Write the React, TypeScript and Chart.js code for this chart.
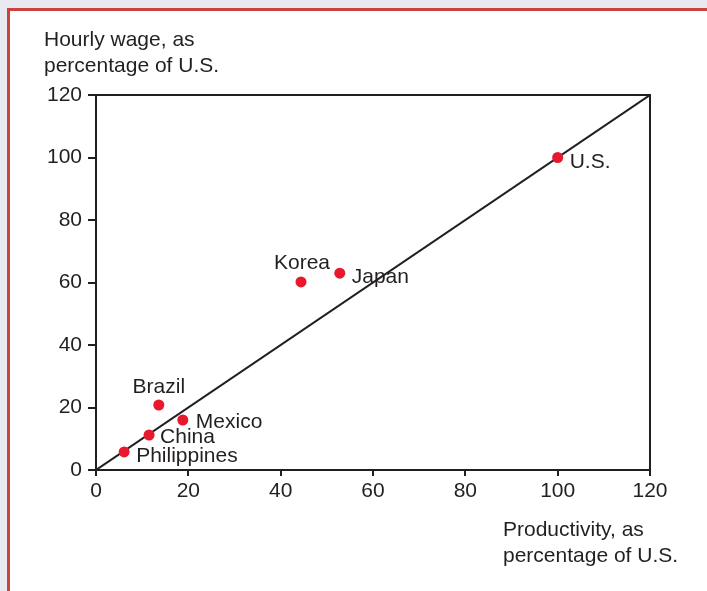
import React, { useEffect, useRef } from "react";
import { Chart, registerables } from "chart.js";

Chart.register(...registerables);

const countries = ["U.S.", "Japan", "Korea", "Brazil", "Mexico", "China", "Philippines"];
const productivity = [100, 52.8, 44.4, 13.6, 18.8, 11.5, 6.1];
const wages = [100, 63, 60.2, 20.8, 16, 11.2, 5.8];
const tickValues = [0, 20, 40, 60, 80, 100, 120];
const yTitle = ["Hourly wage, as", "percentage of U.S."];
const xTitle = ["Productivity, as", "percentage of U.S."];

const INK = "#231f20";
const DOT = "#e8192c";
const FONT = "Liberation Sans, Arial, sans-serif";
const FS = 21;

const labelPlacement: Record<string, { dx: number; dy: number; align: CanvasTextAlign }> = {
  "U.S.": { dx: 12, dy: 10.5, align: "left" },
  Japan: { dx: 12, dy: 9.5, align: "left" },
  Korea: { dx: 1, dy: -13, align: "center" },
  Brazil: { dx: 0, dy: -12, align: "center" },
  Mexico: { dx: 13, dy: 7.7, align: "left" },
  China: { dx: 11, dy: 7.6, align: "left" },
  Philippines: { dx: 12, dy: 10, align: "left" },
};

export default function App() {
  const ref = useRef<HTMLCanvasElement>(null);

  useEffect(() => {
    if (!ref.current) return;
    const annotate = {
      id: "annotate",
      afterDatasetsDraw(chart: any) {
        const { ctx, chartArea, scales } = chart;
        ctx.save();
        ctx.strokeStyle = INK;
        ctx.lineWidth = 2;
        ctx.beginPath();
        ctx.moveTo(chartArea.left, chartArea.top);
        ctx.lineTo(chartArea.right, chartArea.top);
        ctx.lineTo(chartArea.right, chartArea.bottom);
        ctx.stroke();
        ctx.fillStyle = INK;
        ctx.font = `${FS}px ${FONT}`;
        ctx.textBaseline = "alphabetic";
        countries.forEach((c, i) => {
          const p = labelPlacement[c];
          const px = scales.x.getPixelForValue(productivity[i]);
          const py = scales.y.getPixelForValue(wages[i]);
          ctx.textAlign = p.align;
          ctx.fillText(c, px + p.dx, py + p.dy);
        });
        ctx.textAlign = "left";
        ctx.fillText(yTitle[0], 44, 46);
        ctx.fillText(yTitle[1], 44, 71.5);
        ctx.fillText(xTitle[0], 503, 536);
        ctx.fillText(xTitle[1], 503, 562);
        ctx.restore();
      },
    };

    const chart = new Chart(ref.current, {
      type: "scatter",
      data: {
        datasets: [
          {
            label: "Countries",
            data: countries.map((_, i) => ({ x: productivity[i], y: wages[i] })),
            backgroundColor: DOT,
            borderColor: DOT,
            pointRadius: 5.5,
            borderWidth: 0,
            order: 0,
          },
          {
            label: "Parity",
            type: "line",
            data: [
              { x: 0, y: 0 },
              { x: 120, y: 120 },
            ],
            borderColor: INK,
            borderWidth: 2,
            pointRadius: 0,
            showLine: true,
            fill: false,
            order: 1,
          } as any,
        ],
      },
      options: {
        animation: false,
        responsive: true,
        maintainAspectRatio: false,
        layout: { padding: { left: 0, top: 95, right: 57, bottom: 0 } },
        plugins: { legend: { display: false }, tooltip: { enabled: false } },
        scales: {
          x: {
            type: "linear",
            min: 0,
            max: 120,
            afterBuildTicks: (s: any) => {
              s.ticks = tickValues.map((v) => ({ value: v }));
            },
            afterFit: (s: any) => {
              s.height = 121;
            },
            grid: { drawOnChartArea: false, drawTicks: true, tickLength: 6, color: INK, lineWidth: 2 },
            border: { display: true, color: INK, width: 2 },
            ticks: { color: INK, font: { family: FONT, size: FS }, padding: 3, maxRotation: 0 },
          },
          y: {
            type: "linear",
            min: 0,
            max: 120,
            afterBuildTicks: (s: any) => {
              s.ticks = tickValues.map((v) => ({ value: v }));
            },
            afterFit: (s: any) => {
              s.width = 96;
            },
            grid: { drawOnChartArea: false, drawTicks: true, tickLength: 8, color: INK, lineWidth: 2 },
            border: { display: true, color: INK, width: 2 },
            ticks: { color: INK, font: { family: FONT, size: FS }, padding: 6 },
          },
        },
      },
      plugins: [annotate],
    });
    return () => chart.destroy();
  }, []);

  return (
    <div style={{ position: "fixed", left: 0, top: 0, width: 707, height: 591, background: "#e9e9f2" }}>
      <div
        style={{
          position: "absolute",
          left: 7,
          top: 8,
          right: 0,
          bottom: 0,
          background: "#ffffff",
          borderLeft: "3px solid #c8443c",
          borderTop: "3px solid #c8443c",
        }}
      />
      <div style={{ position: "absolute", left: 0, top: 0, width: 707, height: 591 }}>
        <canvas ref={ref} />
      </div>
    </div>
  );
}
